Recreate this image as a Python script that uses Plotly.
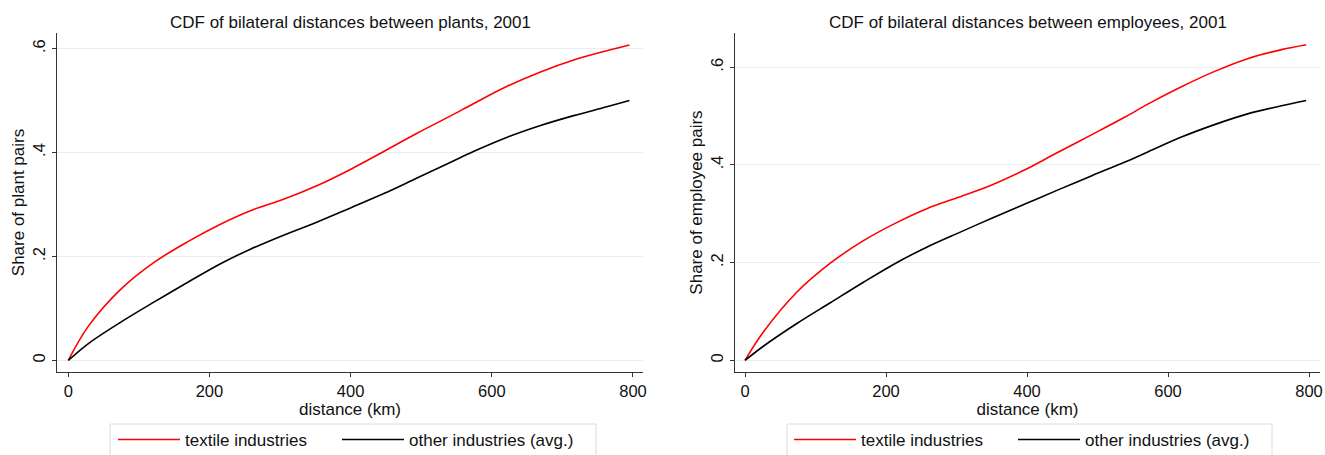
import plotly.graph_objects as go

# Left panel: plants
plants_km = [0, 28, 76, 123, 170, 217, 258, 305, 352, 399, 447, 494, 541,
             574, 621, 669, 716, 763, 795]
plants_textile = [0, 0.065, 0.139, 0.190, 0.229, 0.263, 0.288, 0.310, 0.336, 0.367,
                  0.402, 0.437, 0.470, 0.494, 0.527, 0.555, 0.578, 0.596, 0.607]
plants_other = [0, 0.032, 0.075, 0.1135, 0.151, 0.187, 0.214, 0.241, 0.266, 0.293,
                0.321, 0.351, 0.381, 0.402, 0.429, 0.452, 0.471, 0.488, 0.500]

# Right panel: employees
emp_km = [0, 26, 73, 121, 168, 215, 257, 303, 350, 397, 444, 492, 539,
          572, 619, 667, 714, 761, 796]
emp_textile = [0, 0.058, 0.139, 0.199, 0.245, 0.282, 0.310, 0.334, 0.359, 0.390,
               0.426, 0.462, 0.498, 0.525, 0.560, 0.592, 0.618, 0.636, 0.646]
emp_other = [0, 0.029, 0.075, 0.118, 0.160, 0.200, 0.231, 0.261, 0.291, 0.320,
             0.349, 0.378, 0.406, 0.427, 0.457, 0.483, 0.505, 0.521, 0.532]

x_ticks = [0, 200, 400, 600, 800]
y_ticks = [0, 0.2, 0.4, 0.6]
y_ticktext = ["0", ".2", ".4", ".6"]

titles = ["CDF of bilateral distances between plants, 2001",
          "CDF of bilateral distances between employees, 2001"]
y_titles = ["Share of plant pairs", "Share of employee pairs"]
series_names = ["textile industries", "other industries (avg.)"]

FONT = "Liberation Sans, Arial, sans-serif"
W, H = 1325, 455
ML, MR, MT, MB = 57, 5, 33, 83
PW = W - ML - MR
PH = H - MT - MB

def px_x(px):
    return (px - ML) / PW

def px_y(py):
    return (MT + PH - py) / PH

fig = go.Figure()

line_style = dict(width=1.6, shape="spline", smoothing=1.0)
fig.add_trace(go.Scatter(x=plants_km, y=plants_textile, mode="lines",
                         line=dict(color="#ff0000", **line_style),
                         name=series_names[0], xaxis="x", yaxis="y", legend="legend"))
fig.add_trace(go.Scatter(x=plants_km, y=plants_other, mode="lines",
                         line=dict(color="#000000", **line_style),
                         name=series_names[1], xaxis="x", yaxis="y", legend="legend2"))
fig.add_trace(go.Scatter(x=emp_km, y=emp_textile, mode="lines",
                         line=dict(color="#ff0000", **line_style),
                         name=series_names[0], xaxis="x2", yaxis="y2", legend="legend3"))
fig.add_trace(go.Scatter(x=emp_km, y=emp_other, mode="lines",
                         line=dict(color="#000000", **line_style),
                         name=series_names[1], xaxis="x2", yaxis="y2", legend="legend4"))

dom1 = [0, px_x(643)]
dom2 = [px_x(735), 1.0]

axis_common = dict(showline=True, linecolor="#333333", linewidth=1.2,
                   ticks="outside", ticklen=4, tickcolor="#333333",
                   tickfont=dict(family=FONT, size=16.5, color="#111111"),
                   zeroline=False, automargin=False)

def xax(domain, anchor, rng):
    return dict(domain=domain, anchor=anchor, range=rng, tickvals=x_ticks,
                showgrid=False, title=dict(text="distance (km)", standoff=0,
                                           font=dict(family=FONT, size=17, color="#111111")),
                **axis_common)

def yax(anchor, rng, title):
    return dict(anchor=anchor, range=rng, tickvals=y_ticks, ticktext=y_ticktext,
                tickangle=-90, showgrid=True, gridcolor="#e6eef0", gridwidth=1,
                title=dict(text=title, standoff=1,
                           font=dict(family=FONT, size=17, color="#111111")),
                **axis_common)

legend_common = dict(orientation="h", bgcolor="rgba(0,0,0,0)", borderwidth=0,
                     font=dict(family=FONT, size=17, color="#111111"),
                     itemwidth=62, yanchor="top", xanchor="left", tracegroupgap=0)

leg_y = px_y(422)

fig.update_layout(
    width=W, height=H,
    margin=dict(l=ML, r=MR, t=MT, b=MB, autoexpand=False),
    paper_bgcolor="white", plot_bgcolor="white",
    font=dict(family=FONT, size=16, color="#111111"),
    xaxis=xax(dom1, "y", [-16.0, 814.2]),
    yaxis=yax("x", [-0.0223, 0.630], y_titles[0]),
    xaxis2=xax(dom2, "y2", [-14.2, 815.6]),
    yaxis2=yax("x2", [-0.0237, 0.670], y_titles[1]),
    legend=dict(x=px_x(113), y=leg_y, **legend_common),
    legend2=dict(x=px_x(337), y=leg_y, **legend_common),
    legend3=dict(x=px_x(789), y=leg_y, **legend_common),
    legend4=dict(x=px_x(1013), y=leg_y, **legend_common),
    shapes=[
        dict(type="rect", xref="paper", yref="paper",
             x0=px_x(110), x1=px_x(596), y0=px_y(424), y1=px_y(470),
             line=dict(color="#dcdcdc", width=1), fillcolor="rgba(0,0,0,0)", layer="below"),
        dict(type="rect", xref="paper", yref="paper",
             x0=px_x(787), x1=px_x(1272), y0=px_y(424), y1=px_y(470),
             line=dict(color="#dcdcdc", width=1), fillcolor="rgba(0,0,0,0)", layer="below"),
    ],
    annotations=[
        dict(text=titles[0], x=(dom1[0] + dom1[1]) / 2, y=px_y(22),
             xref="paper", yref="paper", showarrow=False, yanchor="middle",
             xanchor="center", font=dict(family=FONT, size=17, color="#111111")),
        dict(text=titles[1], x=(dom2[0] + dom2[1]) / 2, y=px_y(22),
             xref="paper", yref="paper", showarrow=False, yanchor="middle",
             xanchor="center", font=dict(family=FONT, size=17, color="#111111")),
    ],
    showlegend=True,
)

fig.write_html("out.html", config={"displayModeBar": False},
               post_script="document.body.style.margin='0';document.body.style.overflow='hidden';")
